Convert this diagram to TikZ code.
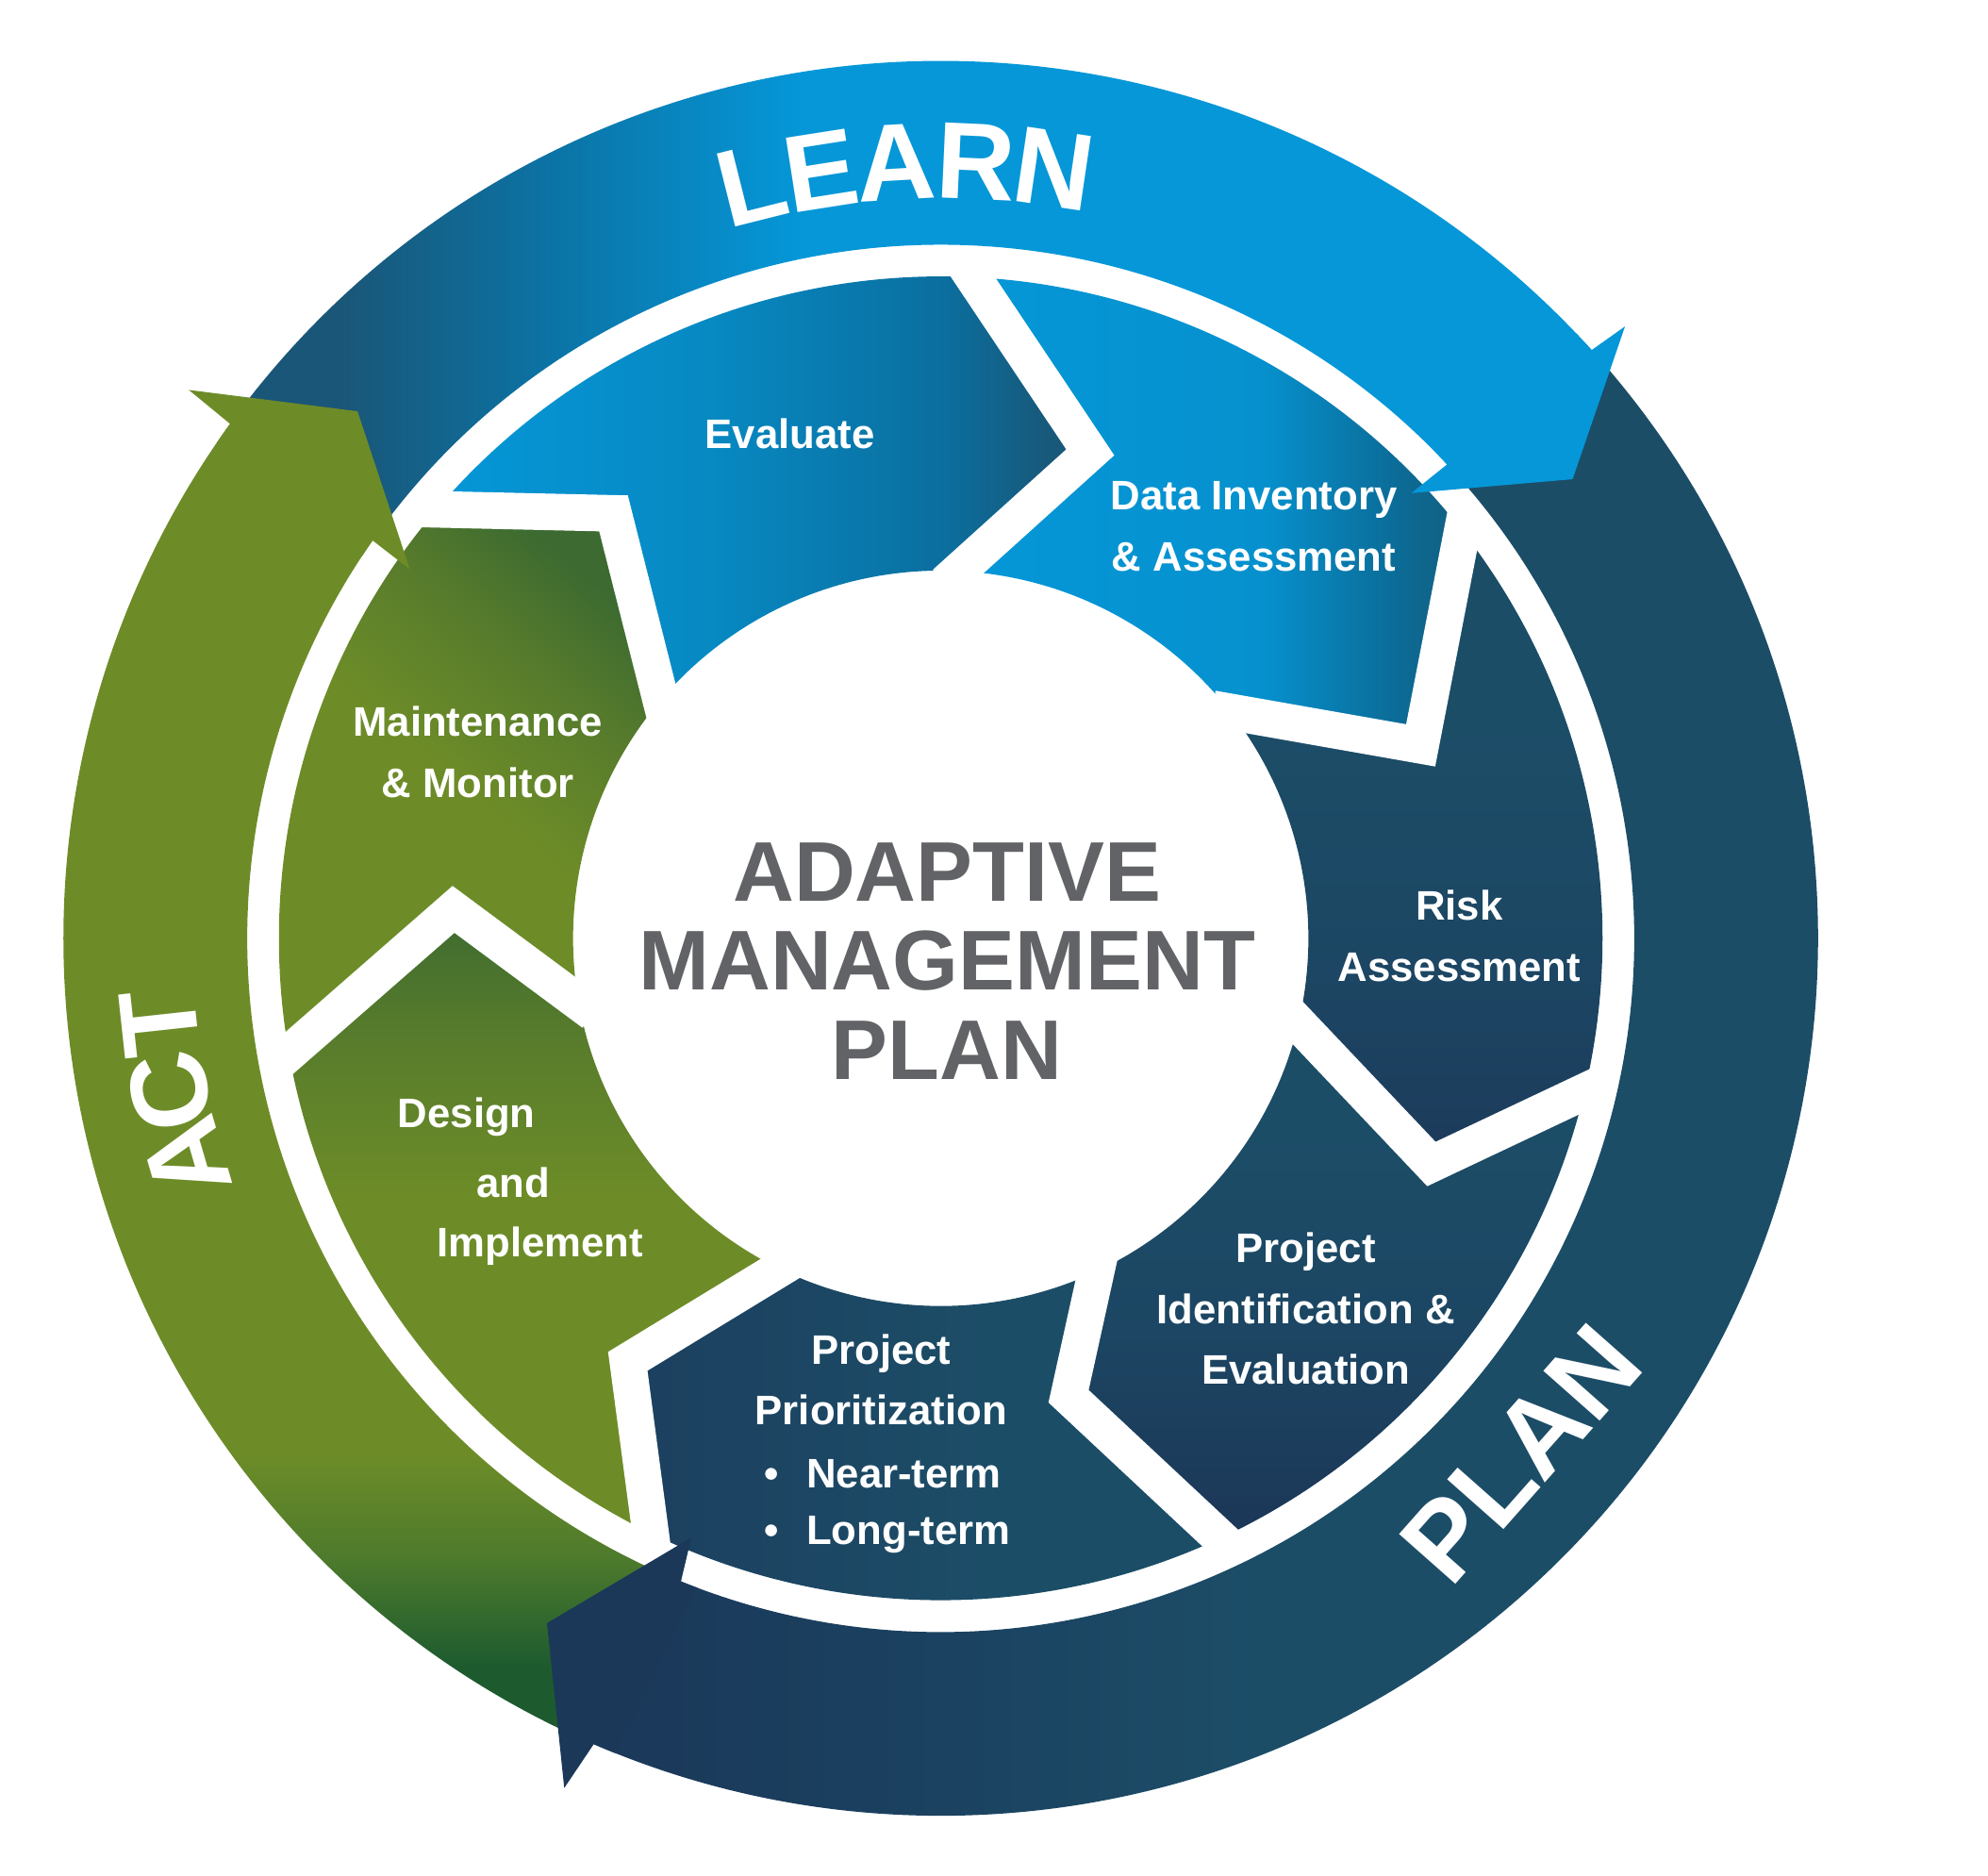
\documentclass[tikz,border=0pt]{standalone}
\usepackage{fontspec}
\setmainfont{Liberation Sans}
\usepackage{tikz}

\definecolor{learnblue}{HTML}{0597D8}
\definecolor{learnmid}{HTML}{0B74A6}
\definecolor{learndark}{HTML}{1A5677}
\definecolor{plannavy}{HTML}{1C4D67}
\definecolor{planmid}{HTML}{1B4160}
\definecolor{plandark}{HTML}{1B3859}
\definecolor{actgreen}{HTML}{6D8C28}
\definecolor{actmid}{HTML}{4D7A2C}
\definecolor{actdark}{HTML}{1D5B2F}
\definecolor{evallight}{HTML}{0789C2}
\definecolor{evalmid}{HTML}{0B6E9E}
\definecolor{evaldark}{HTML}{185878}
\definecolor{datalight}{HTML}{0691CE}
\definecolor{datamid}{HTML}{0B6D99}
\definecolor{datadark}{HTML}{135E7E}
\definecolor{riskmid}{HTML}{1C4663}
\definecolor{riskdark}{HTML}{1D3A5B}
\definecolor{identdark}{HTML}{1C3657}
\definecolor{priordark}{HTML}{1C405F}
\definecolor{mossmid}{HTML}{557A2C}
\definecolor{mossdark}{HTML}{3C6A30}
\definecolor{titlegray}{HTML}{626366}

\pgfdeclarehorizontalshading{learnshade}{100bp}{color(0bp)=(learndark); color(29bp)=(learndark); color(37bp)=(learnmid); color(46bp)=(learnblue); color(100bp)=(learnblue)}
\pgfdeclarehorizontalshading{planshade}{100bp}{color(0bp)=(plandark); color(25bp)=(plandark); color(37bp)=(planmid); color(50bp)=(plannavy); color(100bp)=(plannavy)}
\pgfdeclareverticalshading{actshade}{100bp}{color(0bp)=(actdark); color(28bp)=(actdark); color(32bp)=(actmid); color(36bp)=(actgreen); color(100bp)=(actgreen)}
\pgfdeclarehorizontalshading{evalshade}{100bp}{color(0bp)=(learnblue); color(25bp)=(learnblue); color(46bp)=(evallight); color(64bp)=(evalmid); color(72bp)=(evaldark); color(100bp)=(evaldark)}
\pgfdeclarehorizontalshading{datashade}{100bp}{color(0bp)=(learnblue); color(25bp)=(learnblue); color(55bp)=(datalight); color(68bp)=(datamid); color(75bp)=(datadark); color(100bp)=(datadark)}
\pgfdeclareverticalshading{riskshade}{100bp}{color(0bp)=(riskdark); color(25bp)=(riskdark); color(40bp)=(riskmid); color(60bp)=(plannavy); color(100bp)=(plannavy)}
\pgfdeclareverticalshading{identshade}{100bp}{color(0bp)=(identdark); color(25bp)=(identdark); color(45bp)=(riskmid); color(65bp)=(plannavy); color(100bp)=(plannavy)}
\pgfdeclarehorizontalshading{priorshade}{100bp}{color(0bp)=(priordark); color(25bp)=(priordark); color(40bp)=(riskmid); color(55bp)=(plannavy); color(100bp)=(plannavy)}
\pgfdeclareverticalshading{maintshade}{100bp}{color(0bp)=(actgreen); color(50bp)=(actgreen); color(65bp)=(mossmid); color(75bp)=(mossdark); color(100bp)=(mossdark)}
\pgfdeclareverticalshading{designshade}{100bp}{color(0bp)=(actgreen); color(52bp)=(actgreen); color(66bp)=(mossmid); color(75bp)=(mossdark); color(100bp)=(mossdark)}

\begin{document}
\begin{tikzpicture}[x=0.01cm, y=0.01cm,
    steptext/.style={text=white, inner sep=0pt, align=center,
      font=\bfseries\fontsize{9.25}{13.66}\selectfont},
    ringletter/.style={text=white, inner sep=0pt,
      font=\bfseries\fontsize{24.5}{24.5}\selectfont},
    gapline/.style={white, line width=8.2pt, line join=miter, line cap=rect}]
    \useasboundingbox (-742,740) rectangle (826,-739);

    % outer ring
    \shade[shading=learnshade] (145:547) -- (144.1:692) arc[start angle=144.1, end angle=42.1, radius=692]
        -- (43.1:547) arc[start angle=43.1, end angle=145, radius=547] -- cycle;
    \shade[shading=planshade] (43.1:547) -- (42.1:692) arc[start angle=42.1, end angle=-113.3, radius=692]
        -- (-112:547) arc[start angle=-112, end angle=43.1, radius=547] -- cycle;
    \shade[shading=actshade] (-112:547) -- (-113.3:692) arc[start angle=-113.3, end angle=-215.9, radius=692]
        -- (-215:547) arc[start angle=-215, end angle=-112, radius=547] -- cycle;

    % step boundaries
    \coordinate (out1) at (87.2:522);   \coordinate (tip1) at (72.9:401);   \coordinate (in1) at (87.2:290);
    \coordinate (out2) at (38:522);     \coordinate (tip2) at (21.9:408);   \coordinate (in2) at (38:290);
    \coordinate (out3) at (-13.4:522);  \coordinate (tip3) at (-24.7:426);  \coordinate (in3) at (-13.4:290);
    \coordinate (out4) at (-65:522);    \coordinate (tip4) at (-74.4:375);  \coordinate (in4) at (-65:290);
    \coordinate (out5) at (-116:522);   \coordinate (tip5) at (-126.5:415); \coordinate (in5) at (-116:290);
    \coordinate (out6) at (-170:522);   \coordinate (tip6) at (-183.4:385); \coordinate (in6) at (-170:290);
    \coordinate (out7) at (139.6:522);  \coordinate (tip7) at (127.6:423);  \coordinate (in7) at (139.6:290);

    \shade[shading=evalshade] (out7) arc[start angle=139.6, end angle=87.2, radius=522] -- (tip1) -- (in1)
        arc[start angle=87.2, end angle=139.6, radius=290] -- (tip7) -- cycle;
    \shade[shading=datashade] (out1) arc[start angle=87.2, end angle=38, radius=522] -- (tip2) -- (in2)
        arc[start angle=38, end angle=87.2, radius=290] -- (tip1) -- cycle;
    \shade[shading=riskshade] (out2) arc[start angle=38, end angle=-13.4, radius=522] -- (tip3) -- (in3)
        arc[start angle=-13.4, end angle=38, radius=290] -- (tip2) -- cycle;
    \shade[shading=identshade] (out3) arc[start angle=-13.4, end angle=-65, radius=522] -- (tip4) -- (in4)
        arc[start angle=-65, end angle=-13.4, radius=290] -- (tip3) -- cycle;
    \shade[shading=priorshade] (out4) arc[start angle=-65, end angle=-116, radius=522] -- (tip5) -- (in5)
        arc[start angle=-116, end angle=-65, radius=290] -- (tip4) -- cycle;
    \shade[shading=designshade] (out5) arc[start angle=-116, end angle=-170, radius=522] -- (tip6) -- (in6)
        arc[start angle=-170, end angle=-116, radius=290] -- (tip5) -- cycle;
    \shade[shading=maintshade, shading angle=-40] (out6) arc[start angle=-170, end angle=-220.4, radius=522] -- (tip7) -- (in7)
        arc[start angle=-220.4, end angle=-170, radius=290] -- (tip6) -- cycle;

    \foreach \k in {1,...,7}
        \draw[gapline] (out\k) -- (tip\k) -- (in\k);

    % arrow heads
    \fill[learnblue] (43.6:692) arc[start angle=43.6, end angle=42.1, radius=692] -- (41.8:724) -- (36:616)
        -- (43.4:511) -- (43.1:547) arc[start angle=43.1, end angle=44.6, radius=547] -- cycle;
    \fill[plandark] (-111.8:692) arc[start angle=-111.8, end angle=-113.3, radius=692] -- (-113.9:733) -- (-119.9:623)
        -- (-112.6:512) -- (-112:547) arc[start angle=-112, end angle=-110.5, radius=547] -- cycle;
    \fill[actgreen] (145.6:692) arc[start angle=145.6, end angle=144.1, radius=692] -- (143.9:734) -- (137.9:620)
        -- (145.2:510) -- (145:547) arc[start angle=145, end angle=146.5, radius=547] -- cycle;

    \foreach \ch/\ang in {L/104.1, E/98.9, A/93.3, R/87.4, N/81.6}
        \node[ringletter, rotate=\ang-90] (learn\ch) at (\ang:613) {\ch};
    \node[ringletter, rotate=48.5] (plan) at (-41.6:612) {PLAN};
    \foreach \ch/\ang in {A/196.3, C/191.2, T/186.2}
        \node[ringletter, rotate=\ang-90] (act\ch) at (\ang:620) {\ch};

    \node[steptext] (evaluate) at (-119,398) {Evaluate};
    \node[steptext] (inventory) at (247,325) {Data Inventory\\\& Assessment};
    \node[steptext] (risk) at (409,2) {Risk\\Assessment};
    \node[steptext] (identify) at (288,-292) {Project\\Identification \&\\Evaluation};
    \node[steptext] (prioritize) at (-47,-348) {Project\\Prioritization};
    \node[steptext, anchor=west, align=left, font=\bfseries\fontsize{9.25}{12.5}\selectfont] (terms) at (-140,-448)
        {\textbullet\hspace{0.22cm}Near-term\\\textbullet\hspace{0.22cm}Long-term};
    \node[steptext] (maintain) at (-365,147) {Maintenance\\\& Monitor};
    \node[steptext] (design) at (-374,-141) {Design};
    \node[steptext] (and) at (-337,-193) {and};
    \node[steptext] (implement) at (-316,-243) {Implement};

    \node[text=titlegray, align=center, inner sep=0pt, font=\bfseries\fontsize{19}{19.9}\selectfont] (amp) at (5,-18)
        {ADAPTIVE\\MANAGEMENT\\PLAN};
\end{tikzpicture}
\end{document}
